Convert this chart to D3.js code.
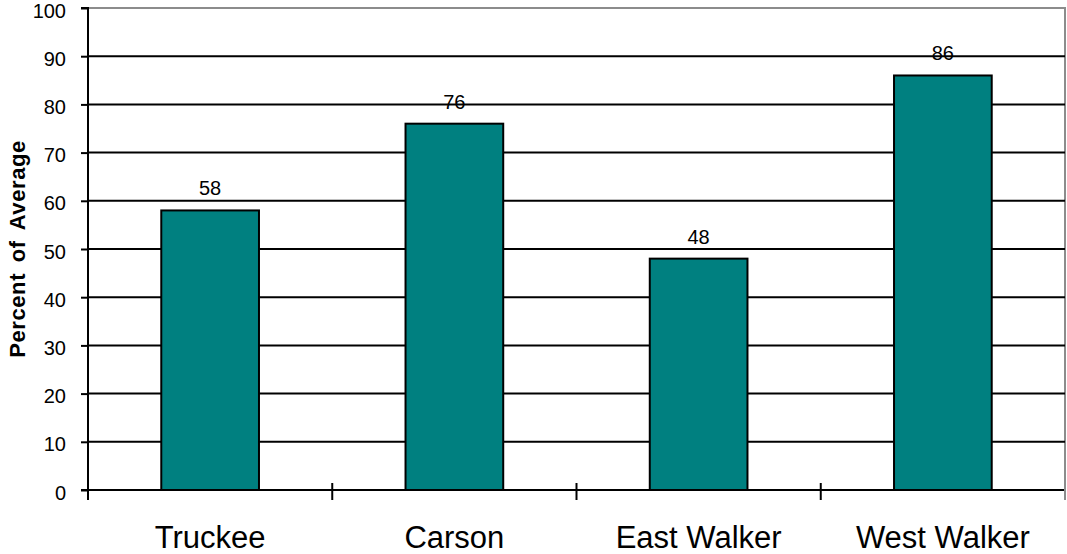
<!DOCTYPE html>
<html>
<head>
<meta charset="utf-8">
<script src="https://cdn.jsdelivr.net/npm/d3@7"></script>
<style>
  html, body { margin: 0; padding: 0; background: #fff; }
  svg { display: block; font-family: "Liberation Sans", Arial, sans-serif; }
</style>
</head>
<body>
<svg id="chart" width="1067" height="554"></svg>
<script>
// Snowpack by basin, percent of average
const basins = ["Truckee", "Carson", "East Walker", "West Walker"];
const percentOfAverage = [58, 76, 48, 86];
const yTicks = [0, 10, 20, 30, 40, 50, 60, 70, 80, 90, 100];

const svg = d3.select("#chart");
const margin = { left: 88, right: 2, top: 8, bottom: 64 };
const W = 1067, H = 554;
const x0 = margin.left, x1 = W - margin.right, y0 = H - margin.bottom, y1 = margin.top;

const x = d3.scaleBand().domain(basins).range([x0, x1]).paddingInner(0).paddingOuter(0);
const y = d3.scaleLinear().domain([0, 100]).range([y0, y1]);

// plot frame (top and right edges, grey)
svg.append("path")
  .attr("d", `M${x0},${y1}H${x1}V${y0 + 10}`)
  .attr("fill", "none").attr("stroke", "#8c8c8c").attr("stroke-width", 2);

// horizontal gridlines
svg.append("g").selectAll("line").data(yTicks.filter(t => t > 0 && t < 100)).join("line")
  .attr("x1", x0).attr("x2", x1)
  .attr("y1", d => y(d)).attr("y2", d => y(d))
  .attr("stroke", "#000").attr("stroke-width", 2);

// y axis
const yAxis = d3.axisLeft(y).tickValues(yTicks).tickSize(7).tickPadding(15);
const gy = svg.append("g").attr("transform", `translate(${x0},0)`).call(yAxis);
gy.select(".domain").attr("stroke", "#000").attr("stroke-width", 2).attr("d", `M-7,${y1}H0V${y0}H-7`);
gy.selectAll(".tick line").attr("stroke", "#000").attr("stroke-width", 2);
gy.selectAll(".tick text").attr("font-size", 20).attr("fill", "#000").attr("dy", "0.45em")
  .attr("font-family", "\"Liberation Sans\", Arial, sans-serif");

// bars
const barW = x.bandwidth() * 0.4;
svg.append("g").selectAll("rect").data(basins).join("rect")
  .attr("x", d => x(d) + (x.bandwidth() - barW) / 2)
  .attr("y", (d, i) => y(percentOfAverage[i]))
  .attr("width", barW)
  .attr("height", (d, i) => y0 - y(percentOfAverage[i]))
  .attr("fill", "#008080").attr("stroke", "#000").attr("stroke-width", 2);

// value labels
svg.append("g").selectAll("text").data(basins).join("text")
  .attr("x", d => x(d) + x.bandwidth() / 2)
  .attr("y", (d, i) => y(percentOfAverage[i]) - 15)
  .attr("text-anchor", "middle").attr("font-size", 20).attr("fill", "#000")
  .text((d, i) => percentOfAverage[i]);

// x axis with boundary ticks
const gx = svg.append("g");
gx.append("line").attr("x1", x0).attr("x2", x1).attr("y1", y0).attr("y2", y0)
  .attr("stroke", "#000").attr("stroke-width", 2);
const boundaries = basins.map(d => x(d)).concat([x1]);
gx.selectAll("line.tick").data(boundaries).join("line").attr("class", "tick")
  .attr("x1", d => d).attr("x2", d => d)
  .attr("y1", y0 - 7).attr("y2", y0 + 10)
  .attr("stroke", (d, i) => i === boundaries.length - 1 ? "#8c8c8c" : "#000")
  .attr("stroke-width", 2);
gx.selectAll("text").data(basins).join("text")
  .attr("x", d => x(d) + x.bandwidth() / 2)
  .attr("y", 548)
  .attr("text-anchor", "middle").attr("font-size", 31).attr("fill", "#000")
  .text(d => d);

// y axis title
svg.append("text")
  .attr("transform", `translate(25,${(y0 + y1) / 2}) rotate(-90)`)
  .attr("text-anchor", "middle").attr("font-size", 22).attr("font-weight", "bold")
  .attr("letter-spacing", 0.6).attr("word-spacing", 4)
  .attr("fill", "#000")
  .text("Percent of Average");
</script>
</body>
</html>
